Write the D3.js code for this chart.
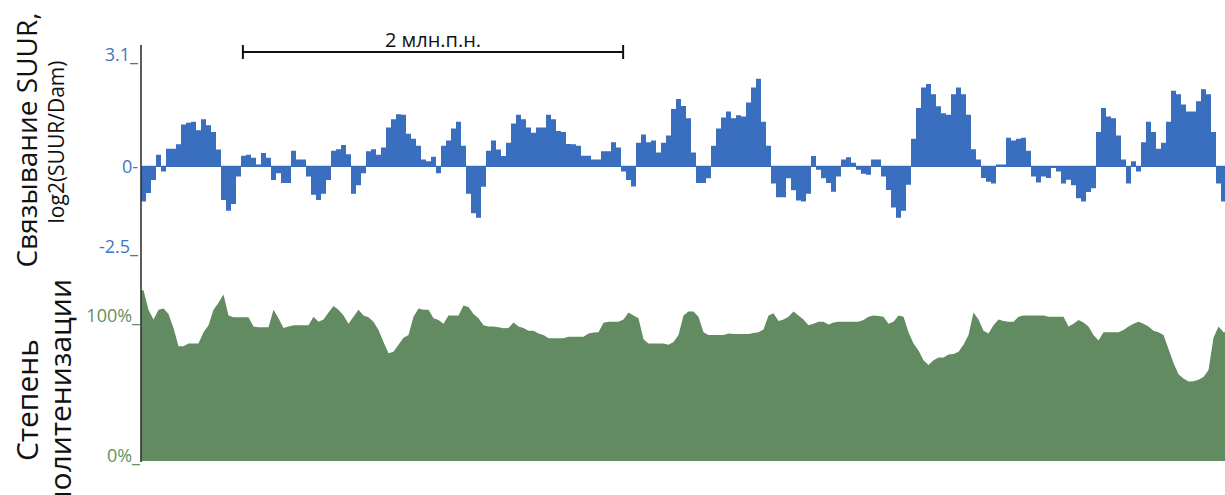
<!DOCTYPE html>
<html>
<head>
<meta charset="utf-8">
<script src="https://cdn.jsdelivr.net/npm/d3@7"></script>
<style>
  html, body { margin: 0; padding: 0; background: #fff; }
  svg { display: block; font-family: "Open Sans", "Noto Sans", sans-serif; }
</style>
</head>
<body>
<svg id="chart" width="1225" height="495"></svg>
<script>
// Genomic bin size (kb) of both tracks
const binKb = 26.3;

// SUUR binding, log2(SUUR/Dam), one value per bin
const suurLog2 = [
  -1.03,-0.78,-0.4,0.34,-0.15,0.51,0.51,0.64,1.22,1.27,
  1.3,1.05,1.37,1.2,1.0,0.49,-0.98,-1.3,-1.1,-0.3,
  0.31,0.34,0.25,0.05,0.39,0.25,-0.4,-0.2,-0.49,-0.49,
  0.45,0.2,0.2,-0.3,-0.83,-0.98,-0.8,-0.4,0.45,0.5,
  0.62,0.35,-0.8,-0.55,-0.2,0.44,0.5,0.34,0.55,1.13,
  1.37,1.52,1.5,0.95,0.8,0.6,0.2,0.15,0.28,-0.2,
  0.6,0.75,1.1,1.3,0.6,-0.8,-1.37,-1.5,-0.6,0.45,
  0.75,0.49,0.3,0.69,1.25,1.5,1.37,1.13,0.98,1.13,
  1.13,1.5,1.37,1.03,1.0,0.65,0.64,0.6,0.31,0.31,
  0.2,0.2,0.44,0.44,0.7,0.55,-0.15,-0.4,-0.59,0.69,
  0.93,0.7,0.75,0.4,0.69,0.9,1.67,1.96,1.76,1.4,
  0.4,-0.49,-0.49,-0.35,0.6,1.1,1.42,1.6,1.4,1.49,
  1.45,1.86,2.3,2.55,1.3,0.6,-0.5,-0.9,-0.9,-0.35,
  -0.7,-1.0,-1.03,-0.8,0.3,-0.1,-0.35,-0.49,-0.74,-0.3,
  0.2,0.26,0.1,-0.1,-0.22,-0.25,0.2,0.2,-0.3,-0.69,
  -1.2,-1.5,-1.3,-0.54,0.8,1.7,2.3,2.4,2.1,1.75,
  1.55,1.5,2.1,2.3,2.1,1.5,0.5,0.2,-0.34,-0.45,
  -0.5,0.05,0.05,0.83,0.75,0.8,0.83,0.45,-0.3,-0.47,
  -0.3,-0.34,-0.05,-0.15,-0.5,-0.39,-0.55,-0.93,-1.03,-0.75,
  -0.64,1.0,1.7,1.45,1.4,0.9,0.2,-0.5,0.15,-0.15,
  0.7,1.3,1.0,0.51,0.69,1.3,2.2,2.1,1.8,1.6,
  1.6,1.9,2.25,2.1,1.0,-0.5,-1.03
];

// Polyteny level, % of the reference level, one value per bin
const polytenyPct = [
  122,108,101,108,109,105,95,82,82,84,
  84,84,92,97,108,113,119,104,102.6,102.6,
  102.6,102.6,96,95.5,95.5,95.5,108,102,95,96,
  97,97,97,97,103,99.5,101,106,110.7,108,
  104,98,103,108,104,102.6,99.5,93.6,85,77,
  78,83,88,90,103,109,108,108,102,100.7,
  98,104,104,104,111,110,105,102,97,96,
  96,95.5,94.8,95,99,96,95,93,93,91,
  90,87.6,87.6,87.6,87.6,88.8,88.8,88.8,88.8,91,
  91.7,92,98.8,99.5,99.5,99.5,101,106,104,102,
  87,84,84,84,84,83,85,90,104,106.7,
  106.7,103,92,90,90,90,90,91,90.7,90.7,
  90.7,90.7,91.5,92,94,104,105.5,100,101,103,
  106.7,104,101,97,98,99.5,99.5,97.5,99,99.5,
  99.5,99.5,99.5,99.5,100.7,103,104,103.5,103,98,
  99.5,104,103,92,84,79,72,68.6,72,74,
  74,76,76.4,78,83,90,106,101,93,91,
  97,101,100,99.5,99.5,103,104,104,104,104,
  104,103,103,103,103,96,98,100.7,99,96,
  90,86,92,92,92,92,93.6,96,98,99.5,
  98,96,93,92,90,80,70,62,59,56.7,
  57,58,60,65,88,96,92
];

// Axis ticks
const suurTicks = [3.1, 0, -2.5];
const suurTickLabels = ["3.1_", "0-", "-2.5_"];
const polyTicks = [100, 0];
const polyTickLabels = ["100%_", "0%_"];

// Scale bar
const scaleBarStartKb = 536;
const scaleBarKb = 2000;
const scaleBarLabel = "2 млн.п.н.";

// ---- layout ----
const plotLeft = 141, plotRight = 1226;
const blueColor = "#3a6ebe", blueText = "#4273c2";
const greenColor = "#628b62", greenText = "#5f9160";

const svg = d3.select("#chart");
const totalKb = suurLog2.length * binKb;

const x = d3.scaleLinear().domain([0, totalKb]).range([plotLeft, plotRight]);
const yS = d3.scaleLinear().domain([-2.5, 3.1]).range([252, 60]);
const yP = d3.scaleLinear().domain([0, 100]).range([461, 321]);

// SUUR track: step area around zero
const suurPts = suurLog2.map((v, i) => ({ kb: i * binKb, v }));
suurPts.push({ kb: totalKb, v: suurLog2[suurLog2.length - 1] });

svg.append("path")
  .datum(suurPts)
  .attr("fill", blueColor)
  .attr("d", d3.area()
    .curve(d3.curveStepAfter)
    .x(d => x(d.kb))
    .y0(yS(0))
    .y1(d => yS(d.v)));

svg.append("line")
  .attr("x1", plotLeft).attr("x2", plotRight)
  .attr("y1", yS(0)).attr("y2", yS(0))
  .attr("stroke", blueColor).attr("stroke-width", 1.2);

// Polyteny track: filled profile from 0%
const polyPts = polytenyPct.map((v, i) => ({ kb: (i + 0.5) * binKb, v }));
polyPts.unshift({ kb: 0, v: polytenyPct[0] });
polyPts.push({ kb: totalKb, v: polytenyPct[polytenyPct.length - 1] });

svg.append("path")
  .datum(polyPts)
  .attr("fill", greenColor)
  .attr("d", d3.area()
    .x(d => x(d.kb))
    .y0(yP(0))
    .y1(d => yP(d.v)));

// Axes (labels only; the shared spine is drawn separately)
function styleAxis(g, color, centered) {
  g.select(".domain").remove();
  g.selectAll("text")
    .attr("fill", color)
    .style("font-size", "18px")
    .style("font-family", '"Open Sans", sans-serif')
    .attr("dy", (d) => centered(d) ? "0.34em" : "0.02em");
}

svg.append("g")
  .attr("transform", `translate(${plotLeft},0)`)
  .call(d3.axisLeft(yS).tickValues(suurTicks).tickSize(0).tickPadding(3)
    .tickFormat((d, i) => suurTickLabels[i]))
  .call(g => styleAxis(g, blueText, d => d === 0));

svg.append("g")
  .attr("transform", `translate(${plotLeft},0)`)
  .call(d3.axisLeft(yP).tickValues(polyTicks).tickSize(0).tickPadding(1)
    .tickFormat((d, i) => polyTickLabels[i]))
  .call(g => styleAxis(g, greenText, () => false));

svg.append("line")
  .attr("x1", plotLeft).attr("x2", plotLeft)
  .attr("y1", 45).attr("y2", 462)
  .attr("stroke", "#333").attr("stroke-width", 1.6);

// Scale bar
const sb0 = x(scaleBarStartKb), sb1 = x(scaleBarStartKb + scaleBarKb);
const sbY = 52;
const sb = svg.append("g").attr("stroke", "#111").attr("stroke-width", 2);
sb.append("line").attr("x1", sb0).attr("x2", sb1).attr("y1", sbY).attr("y2", sbY);
sb.append("line").attr("x1", sb0).attr("x2", sb0).attr("y1", sbY - 7).attr("y2", sbY + 7);
sb.append("line").attr("x1", sb1).attr("x2", sb1).attr("y1", sbY - 7).attr("y2", sbY + 7);
svg.append("text")
  .attr("x", (sb0 + sb1) / 2).attr("y", 47)
  .attr("text-anchor", "middle")
  .style("font-size", "20px")
  .attr("fill", "#111")
  .text(scaleBarLabel);

// Track titles (rotated)
function vTitle(text, xBase, yMid, size) {
  svg.append("text")
    .attr("transform", `translate(${xBase},${yMid}) rotate(-90)`)
    .attr("text-anchor", "middle")
    .style("font-size", size + "px")
    .attr("fill", "#111")
    .text(text);
}
vTitle("Связывание SUUR,", 37, 140, 28);
vTitle("log2(SUUR/Dam)", 64, 142, 21);
vTitle("Степень", 38, 400, 30);
vTitle("политенизации", 71, 394, 30);
</script>
</body>
</html>
